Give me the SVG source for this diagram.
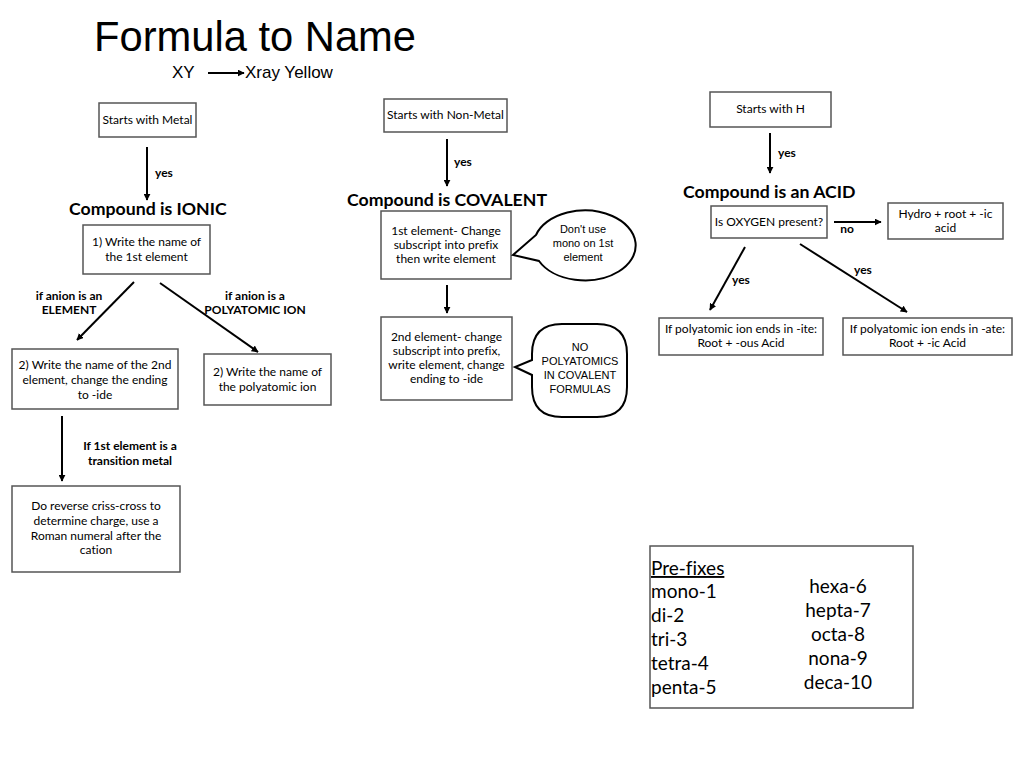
<svg xmlns="http://www.w3.org/2000/svg" width="1024" height="768" viewBox="0 0 1024 768">
<defs>
<marker id="ah" viewBox="0 0 10 10" refX="9" refY="5" markerWidth="7" markerHeight="7" markerUnits="userSpaceOnUse" orient="auto">
<path d="M0,0 L10,5 L0,10 z" fill="#000"/>
</marker>
</defs>
<style>
text{font-variant-ligatures:none}
.box{fill:#fff;stroke:#555;stroke-width:1.5}
.t{font-family:Lato,"Open Sans","DejaVu Sans",sans-serif;font-size:12px;fill:#000;text-anchor:middle}
.b{font-family:Lato,"Open Sans","DejaVu Sans",sans-serif;font-size:12px;font-weight:bold;fill:#000;text-anchor:middle}
.h{font-family:Lato,"Open Sans","DejaVu Sans",sans-serif;font-size:17.7px;font-weight:bold;fill:#000}
.a{font-family:"Liberation Sans",Arial,sans-serif;font-size:11px;fill:#000;text-anchor:middle}
.p{font-family:Lato,"Open Sans","DejaVu Sans",sans-serif;font-size:19px;fill:#000}
.ln{stroke:#000;stroke-width:2;fill:none;marker-end:url(#ah)}
.bub{fill:#fff;stroke:#000;stroke-width:2}
</style>
<rect width="1024" height="768" fill="#fff"/>

<g id="title">
<text x="94" y="51" font-family="Liberation Sans,Arial,sans-serif" font-size="41.7">Formula to Name</text>
<text x="172" y="78" font-family="Liberation Sans,Arial,sans-serif" font-size="17">XY</text>
<text x="245" y="78" font-family="Liberation Sans,Arial,sans-serif" font-size="17">Xray Yellow</text>
</g>

<g id="connectors">
<line class="ln" x1="208" y1="73" x2="244" y2="73"/>
<line class="ln" x1="147" y1="147" x2="147" y2="200"/>
<line class="ln" x1="134" y1="282" x2="77" y2="340"/>
<line class="ln" x1="160" y1="283" x2="258" y2="352"/>
<line class="ln" x1="62" y1="416" x2="62" y2="481"/>
<line class="ln" x1="447" y1="139" x2="447" y2="186"/>
<line class="ln" x1="447" y1="285" x2="447" y2="313"/>
<line class="ln" x1="770" y1="133" x2="770" y2="173"/>
<line class="ln" x1="834" y1="222" x2="881" y2="222"/>
<line class="ln" x1="745" y1="247" x2="710" y2="310"/>
<line class="ln" x1="800" y1="244" x2="907" y2="312"/>
<text class="b" x="164" y="177">yes</text>
<text class="b" x="463" y="166">yes</text>
<text class="b" x="787" y="157">yes</text>
<text class="b" x="847" y="233">no</text>
<text class="b" x="741" y="284">yes</text>
<text class="b" x="863" y="274">yes</text>
<text class="b" x="69" y="300">if anion is an</text>
<text class="b" x="69" y="314">ELEMENT</text>
<text class="b" x="255" y="300">if anion is a</text>
<text class="b" x="255" y="314">POLYATOMIC ION</text>
<text class="b" x="130" y="450">If 1st element is a</text>
<text class="b" x="130" y="465">transition metal</text>
</g>

<g id="metal">
<rect class="box" x="99" y="103" width="97" height="34"/>
<text class="t" x="147.5" y="124">Starts with Metal</text>
</g>
<g id="ionic">
<text class="h" x="69" y="215">Compound is IONIC</text>
</g>
<g id="ionic1">
<rect class="box" x="83" y="225" width="127" height="49"/>
<text class="t" x="146.5" y="246">1) Write the name of</text>
<text class="t" x="146.5" y="261">the 1st element</text>
</g>
<g id="ionic2a">
<rect class="box" x="12" y="349" width="166" height="60"/>
<text class="t" x="95" y="369">2) Write the name of the 2nd</text>
<text class="t" x="95" y="384">element, change the ending</text>
<text class="t" x="95" y="399">to -ide</text>
</g>
<g id="ionic2b">
<rect class="box" x="204" y="354" width="127" height="51"/>
<text class="t" x="267.5" y="376">2) Write the name of</text>
<text class="t" x="267.5" y="391">the polyatomic ion</text>
</g>
<g id="ionic3">
<rect class="box" x="12" y="486" width="168" height="86"/>
<text class="t" x="96" y="510">Do reverse criss-cross to</text>
<text class="t" x="96" y="525">determine charge, use a</text>
<text class="t" x="96" y="540">Roman numeral after the</text>
<text class="t" x="96" y="554">cation</text>
</g>

<g id="nonmetal">
<rect class="box" x="384" y="99" width="123" height="33"/>
<text class="t" x="445.5" y="119">Starts with Non-Metal</text>
</g>
<g id="covalent">
<text class="h" x="347" y="206">Compound is COVALENT</text>
</g>
<g id="cov1">
<rect class="box" x="381" y="211" width="130" height="68"/>
<text class="t" x="446" y="235">1st element- Change</text>
<text class="t" x="446" y="249">subscript into prefix</text>
<text class="t" x="446" y="263">then write element</text>
</g>
<g id="bubble1">
<path class="bub" d="M536,235 A51,35 0 1 1 539,261 L513,255 Z"/>
<text class="a" x="583" y="233">Don't use</text>
<text class="a" x="583" y="247">mono on 1st</text>
<text class="a" x="583" y="261">element</text>
</g>
<g id="cov2">
<rect class="box" x="381" y="317" width="131" height="83"/>
<text class="t" x="446.5" y="341">2nd element- change</text>
<text class="t" x="446.5" y="355">subscript into prefix,</text>
<text class="t" x="446.5" y="369">write element, change</text>
<text class="t" x="446.5" y="383">ending to -ide</text>
</g>
<g id="bubble2">
<path class="bub" d="M562,324 L597,324 Q627,324 627,354 L627,387 Q627,417 597,417 L562,417 Q532,417 532,387 L532,375 L515,367 L532,360 L532,354 Q532,324 562,324 Z"/>
<text class="a" x="580" y="351">NO</text>
<text class="a" x="580" y="365">POLYATOMICS</text>
<text class="a" x="580" y="379">IN COVALENT</text>
<text class="a" x="580" y="393">FORMULAS</text>
</g>

<g id="hstart">
<rect class="box" x="710" y="92" width="121" height="35"/>
<text class="t" x="770.5" y="113">Starts with H</text>
</g>
<g id="acid">
<text class="h" x="683" y="198">Compound is an ACID</text>
</g>
<g id="oxygen">
<rect class="box" x="711" y="206" width="116" height="32"/>
<text class="t" x="769" y="226">Is OXYGEN present?</text>
</g>
<g id="hydro">
<rect class="box" x="888" y="203" width="115" height="36"/>
<text class="t" x="945.5" y="218">Hydro + root + -ic</text>
<text class="t" x="945.5" y="232">acid</text>
</g>
<g id="ite">
<rect class="box" x="659" y="318" width="164" height="37"/>
<text class="t" x="741" y="333">If polyatomic ion ends in -ite:</text>
<text class="t" x="741" y="347">Root + -ous Acid</text>
</g>
<g id="ate">
<rect class="box" x="843" y="318" width="169" height="37"/>
<text class="t" x="927.5" y="333">If polyatomic ion ends in -ate:</text>
<text class="t" x="927.5" y="347">Root + -ic Acid</text>
</g>

<g id="prefixes">
<rect class="box" x="650" y="546" width="263" height="162"/>
<text class="p" x="651" y="575" text-decoration="underline">Pre-fixes</text>
<text class="p" x="651" y="598">mono-1</text>
<text class="p" x="651" y="622">di-2</text>
<text class="p" x="651" y="646">tri-3</text>
<text class="p" x="651" y="670">tetra-4</text>
<text class="p" x="651" y="694">penta-5</text>
<text class="p" x="838" y="593" text-anchor="middle">hexa-6</text>
<text class="p" x="838" y="617" text-anchor="middle">hepta-7</text>
<text class="p" x="838" y="641" text-anchor="middle">octa-8</text>
<text class="p" x="838" y="665" text-anchor="middle">nona-9</text>
<text class="p" x="838" y="689" text-anchor="middle">deca-10</text>
</g>
</svg>
